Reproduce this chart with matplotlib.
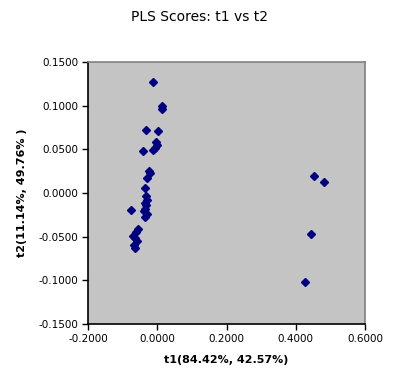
import matplotlib.pyplot as plt
from matplotlib.ticker import FormatStrFormatter

# PLS scores
t1 = [-0.011, 0.015, 0.014, -0.032, 0.003, -0.004, -0.001, -0.006,
      -0.040, -0.013, -0.024, -0.021, -0.029, -0.034, -0.033, -0.030,
      -0.036, -0.032, -0.035, -0.037, -0.031, -0.036, -0.076, -0.056,
      -0.062, -0.070, -0.058, -0.063, -0.066, -0.064,
      0.454, 0.483, 0.445, 0.428]
t2 = [0.127, 0.100, 0.096, 0.072, 0.071, 0.058, 0.055, 0.052,
      0.048, 0.049, 0.025, 0.023, 0.017, 0.006, -0.004, -0.008,
      -0.011, -0.014, -0.018, -0.021, -0.024, -0.027, -0.020, -0.041,
      -0.045, -0.049, -0.055, -0.052, -0.060, -0.063,
      0.019, 0.013, -0.047, -0.102]

xticks = [-0.2, 0.0, 0.2, 0.4, 0.6]
yticks = [-0.15, -0.10, -0.05, 0.0, 0.05, 0.10, 0.15]

plt.rcParams['font.family'] = ['DejaVu Sans']

fig = plt.figure(figsize=(3.99, 3.89), dpi=100)
ax = fig.add_axes([0.2206, 0.1671, 0.6942, 0.6735])
ax.set_facecolor('#c4c4c4')

ax.plot(t1, t2, linestyle='none', marker='D', markersize=3.8,
        color='#000080', markeredgecolor='#000080')

ax.set_xlim(-0.2, 0.6)
ax.set_ylim(-0.15, 0.15)
ax.set_xticks(xticks)
ax.set_yticks(yticks)
ax.xaxis.set_major_formatter(FormatStrFormatter('%.4f'))
ax.yaxis.set_major_formatter(FormatStrFormatter('%.4f'))
ax.tick_params(direction='out', length=4, width=1, labelsize=7.5, pad=3)

for side in ['top', 'right']:
    ax.spines[side].set_color('#808080')
    ax.spines[side].set_linewidth(1.2)
for side in ['left', 'bottom']:
    ax.spines[side].set_color('black')
    ax.spines[side].set_linewidth(1.2)

fig.text(0.5, 0.956, 'PLS Scores: t1 vs t2', ha='center', va='center', fontsize=10)
ax.set_xlabel('t1(84.42%, 42.57%)', fontsize=8, fontweight='bold', labelpad=8)
ax.set_ylabel('t2(11.14%, 49.76% )', fontsize=8, fontweight='bold', labelpad=8)

fig.savefig('out.png', dpi=100)
